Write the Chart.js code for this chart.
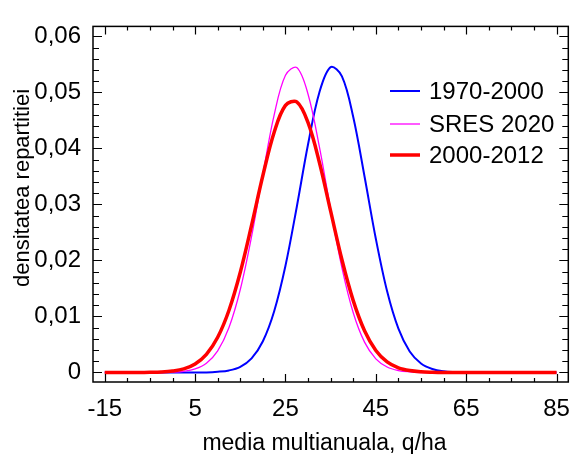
<!DOCTYPE html>
<html>
<head>
<meta charset="utf-8">
<script src="https://cdn.jsdelivr.net/npm/chart.js@4.4.1/dist/chart.umd.min.js"></script>
<style>
  html, body { margin: 0; padding: 0; background: #fff; }
  #wrap { width: 583px; height: 454px; }
</style>
</head>
<body>
<div id="wrap"><canvas id="myChart" width="583" height="454"></canvas></div>
<script>
var xValues = [-15, -12.5, -10, -7.5, -5, -2.5, 0, 2.5, 5, 7.5, 10, 12.5, 15, 17.5, 20, 22.5, 25, 27.5, 30, 32.5, 35, 37.5, 40, 42.5, 45, 47.5, 50, 52.5, 55, 57.5, 60, 62.5, 65, 67.5, 70, 72.5, 75, 77.5, 80, 82.5, 85];
var blueValues = [0, 0, 0, 0, 0, 0, 0, 0, 0, 0, 0.00012, 0.00037, 0.00102, 0.00253, 0.00558, 0.01094, 0.01906, 0.02956, 0.04076, 0.04999, 0.05452, 0.05288, 0.04561, 0.0350, 0.02388, 0.01449, 0.00782, 0.00375, 0.0016, 0.00061, 0.0002, 0.00006, 0, 0, 0, 0, 0, 0, 0, 0, 0];
var magentaValues = [0, 0, 0, 0, 0, 0, 0.00006, 0.00021, 0.00063, 0.00166, 0.00387, 0.00803, 0.01482, 0.0243, 0.03545, 0.04599, 0.05306, 0.05445, 0.04969, 0.04033, 0.02911, 0.01869, 0.01067, 0.00542, 0.00244, 0.00098, 0.00035, 0.00011, 0, 0, 0, 0, 0, 0, 0, 0, 0, 0, 0, 0, 0];
var redValues = [0, 0, 0, 0, 0.00003, 0.00009, 0.00026, 0.00065, 0.00153, 0.00325, 0.00629, 0.01112, 0.0179, 0.02629, 0.03518, 0.0429, 0.04769, 0.04831, 0.0446, 0.03754, 0.0288, 0.02013, 0.01283, 0.00745, 0.00394, 0.0019, 0.00084, 0.00034, 0.00012, 0.00004, 0, 0, 0, 0, 0, 0, 0, 0, 0, 0, 0];
var seriesNames = ["1970-2000", "SRES 2020", "2000-2012"];
var seriesColors = ["#0000ff", "#ff00ff", "#ff0000"];
var seriesWidths = [2, 1.3, 3.5];
var xTickValues = [-15, 5, 25, 45, 65, 85];
var yTickValues = [0, 0.01, 0.02, 0.03, 0.04, 0.05, 0.06];
var xTitle = "media multianuala, q/ha";
var yTitle = "densitatea repartitiei";

var FONT = "'Liberation Sans', Arial, sans-serif";

function toPoints(ys) {
    return xValues.map(function (x, i) { return { x: x, y: ys[i] }; });
}

// frame, inner ticks (major + minor), axis titles and legend
var framePlugin = {
    id: "frame",
    afterDraw: function (chart) {
        var ctx = chart.ctx;
        var a = chart.chartArea;
        var xs = chart.scales.x, ys = chart.scales.y;
        ctx.save();
        ctx.strokeStyle = "#000";
        ctx.lineWidth = 1.5;
        ctx.strokeRect(a.left, a.top, a.right - a.left, a.bottom - a.top);
        ctx.lineWidth = 1.2;
        ctx.beginPath();
        for (var v = -15; v <= 85; v += 5) {
            var px = Math.round(xs.getPixelForValue(v)) + 0.5;
            var len = (v + 15) % 20 === 0 ? 8 : 4;
            ctx.moveTo(px, a.bottom); ctx.lineTo(px, a.bottom - len);
            ctx.moveTo(px, a.top); ctx.lineTo(px, a.top + len);
        }
        for (var k = 0; k <= 30; k++) {
            var py = Math.round(ys.getPixelForValue(k * 0.002)) + 0.5;
            var l2 = k % 5 === 0 ? 9 : 6;
            ctx.moveTo(a.left, py); ctx.lineTo(a.left + l2, py);
            ctx.moveTo(a.right, py); ctx.lineTo(a.right - l2, py);
        }
        ctx.stroke();

        // axis titles
        ctx.fillStyle = "#000";
        ctx.textBaseline = "alphabetic";
        ctx.textAlign = "center";
        ctx.font = "23px " + FONT;
        ctx.fillText(xTitle, 324.5, 450);
        ctx.save();
        ctx.translate(29, 188);
        ctx.rotate(-Math.PI / 2);
        ctx.font = "22px " + FONT;
        ctx.fillText(yTitle, 0, 0);
        ctx.restore();

        // legend
        var rows = [91, 124, 155];
        ctx.font = "24px " + FONT;
        ctx.textBaseline = "middle";
        ctx.textAlign = "left";
        for (var i = 0; i < seriesNames.length; i++) {
            ctx.strokeStyle = seriesColors[i];
            ctx.lineWidth = seriesWidths[i];
            ctx.beginPath();
            ctx.moveTo(390, rows[i]); ctx.lineTo(420, rows[i]);
            ctx.stroke();
            ctx.fillStyle = "#000";
            ctx.fillText(seriesNames[i], 429, rows[i] + 1);
        }
        ctx.restore();
    }
};

new Chart("myChart", {
    type: "line",
    data: {
        datasets: [
            { label: seriesNames[0], data: toPoints(blueValues), borderColor: seriesColors[0], borderWidth: seriesWidths[0], order: 2 },
            { label: seriesNames[1], data: toPoints(magentaValues), borderColor: seriesColors[1], borderWidth: seriesWidths[1], order: 1 },
            { label: seriesNames[2], data: toPoints(redValues), borderColor: seriesColors[2], borderWidth: seriesWidths[2], order: 0 }
        ]
    },
    options: {
        responsive: false,
        animation: false,
        layout: { padding: { top: 14, right: 4, left: 0, bottom: 0 } },
        elements: {
            point: { radius: 0 },
            line: { tension: 0.35, fill: false }
        },
        plugins: {
            legend: { display: false },
            tooltip: { enabled: false }
        },
        scales: {
            x: {
                type: "linear",
                min: -17.6,
                max: 87.6,
                grid: { display: false, drawTicks: false },
                border: { display: false },
                afterBuildTicks: function (s) { s.ticks = xTickValues.map(function (v) { return { value: v }; }); },
                afterFit: function (s) { s.height = 72; },
                ticks: { color: "#000", padding: 13, maxRotation: 0, font: { family: FONT, size: 24 } }
            },
            y: {
                min: -0.0017,
                max: 0.0618,
                grid: { display: false, drawTicks: false },
                border: { display: false },
                afterBuildTicks: function (s) { s.ticks = yTickValues.map(function (v) { return { value: v }; }); },
                afterFit: function (s) { s.width = 93; },
                ticks: {
                    color: "#000",
                    padding: 12,
                    font: { family: FONT, size: 24 },
                    callback: function (v) { return v === 0 ? "0" : v.toFixed(2).replace(".", ","); }
                }
            }
        }
    },
    plugins: [framePlugin]
});
</script>
</body>
</html>
